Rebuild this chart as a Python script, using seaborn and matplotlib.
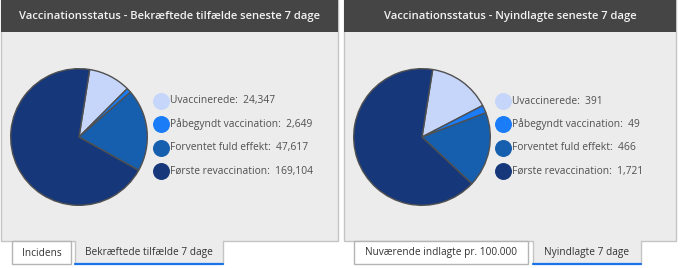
import matplotlib
matplotlib.use("Agg")
import matplotlib.pyplot as plt
import seaborn as sns
from matplotlib.patches import Rectangle

sns.set_theme(style="white")
plt.rcParams["font.family"] = ["Open Sans", "DejaVu Sans"]

# =====================================
# Data
# =====================================

categories = ["Uvaccinerede", "Påbegyndt vaccination",
              "Forventet fuld effekt", "Første revaccination"]

cases_values = [24347, 2649, 47617, 169104]
admitted_values = [391, 49, 466, 1721]

titles = ["Vaccinationsstatus - Bekræftede tilfælde seneste 7 dage",
          "Vaccinationsstatus - Nyindlagte seneste 7 dage"]

tabs_left = ["Incidens", "Bekræftede tilfælde 7 dage"]
tabs_right = ["Nuværende indlagte pr. 100.000", "Nyindlagte 7 dage"]

colors = ["#c5d6fa", "#1a7cf6", "#155fae", "#16387a"]

W, H = 680, 268
fig = plt.figure(figsize=(W / 100, H / 100), dpi=100)
fig.patch.set_facecolor("white")
renderer = fig.canvas.get_renderer()

# background canvas in pixel units
bg = fig.add_axes([0, 0, 1, 1])
bg.set_xlim(0, W)
bg.set_ylim(H, 0)
bg.axis("off")


def fit_size(text, width_px, weight="normal"):
    # font size that gives the text the wanted width in pixels
    t = fig.text(0, 0, text, fontsize=10, fontweight=weight)
    w = t.get_window_extent(renderer).width
    t.remove()
    return 10 * width_px / w


title_fs = fit_size(titles[0], 304, "semibold")
legend_fs = fit_size("Første revaccination:  169,104", 142)
tab_fs = fit_size(tabs_left[1], 128)


def panel(x0, x1, title, values, pie_cx, legend_x, tabs, tab_x):
    # body
    bg.add_patch(Rectangle((x0, 0), x1 - x0, 241, facecolor="#ececec",
                           edgecolor="#c4c4c4", lw=1))
    # header
    bg.add_patch(Rectangle((x0, 0), x1 - x0, 32, facecolor="#454545",
                           edgecolor="none"))
    bg.text((x0 + x1) / 2, 16.5, title, color="#f2f2f2", fontsize=title_fs,
            fontweight="semibold", ha="center", va="center")

    # pie
    r = 69
    ax = fig.add_axes([(pie_cx - r) / W, (H - 137 - r) / H, 2 * r / W, 2 * r / H])
    ax.pie(values, colors=colors, startangle=81, counterclock=False,
           wedgeprops=dict(edgecolor="#505050", linewidth=1.0))
    ax.set_xlim(-1.01, 1.01)
    ax.set_ylim(-1.01, 1.01)
    ax.axis("off")

    # legend
    for i, (lab, val) in enumerate(zip(categories, values)):
        y = 101 + i * 23.4
        bg.scatter(legend_x, y, s=125, color=colors[i], zorder=3)
        bg.text(legend_x + 9, y, f"{lab}:  {val:,}", color="#505050",
                fontsize=legend_fs, ha="left", va="center")

    # tabs
    (a0, a1), (b0, b1) = tab_x
    bg.add_patch(Rectangle((a0, 241), a1 - a0, 23, facecolor="white",
                           edgecolor="#b4b4b4", lw=1))
    bg.text((a0 + a1) / 2, 253, tabs[0], color="#333333", fontsize=tab_fs,
            ha="center", va="center")
    bg.add_patch(Rectangle((b0, 240), b1 - b0, 24, facecolor="#ececec",
                           edgecolor="none"))
    bg.plot([b0, b0], [241, 264], color="#c4c4c4", lw=1)
    bg.plot([b1, b1], [241, 264], color="#c4c4c4", lw=1)
    bg.plot([b0, b1], [264, 264], color="#1a73e8", lw=1.6)
    bg.text((b0 + b1) / 2, 253, tabs[1], color="#333333", fontsize=tab_fs,
            ha="center", va="center")


panel(0.5, 338, titles[0], cases_values, 79, 161, tabs_left,
      [(12, 71), (75, 223)])
panel(344, 676, titles[1], admitted_values, 422, 503, tabs_right,
      [(354, 528), (533, 641)])

fig.savefig("out.png", dpi=100)
